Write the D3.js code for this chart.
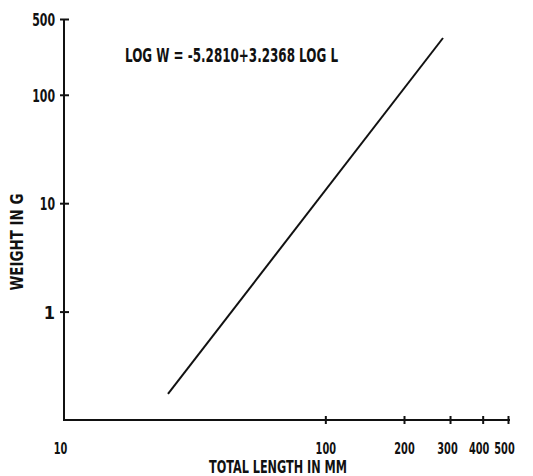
<!DOCTYPE html>
<html>
<head>
<meta charset="utf-8">
<script src="https://cdn.jsdelivr.net/npm/d3@7"></script>
<style>
  html, body { margin: 0; padding: 0; background: #fff; }
  text { font-family: "DejaVu Sans Condensed", "Liberation Sans Narrow", sans-serif; font-weight: bold; fill: #111; }
</style>
</head>
<body>
<svg id="chart" width="533" height="476"></svg>
<script>
// ---- data ----
const xTicks = [10, 100, 200, 300, 400, 500];
const xTickLabels = ["10", "100", "200", "300", "400", "500"];
const yTicks = [1, 10, 100, 500];
const yTickLabels = ["1", "10", "100", "500"];
const lineLength = [25, 282];      // total length, mm
const lineWeight = [0.174, 334];   // weight, g
const equationText = "LOG W = -5.2810+3.2368 LOG L";
const xTitle = "TOTAL LENGTH IN MM";
const yTitle = "WEIGHT IN G";

// ---- layout ----
const svg = d3.select("#chart");
const x = d3.scaleLog().domain([10, 500]).range([64, 508]);
const y = d3.scaleLog().domain([0.1, 500]).range([420, 19]);

const ink = "#111";
const fam = '"DejaVu Sans Condensed", "Liberation Sans Narrow", sans-serif';
function squeeze(sel, perChar) {
  sel.each(function() {
    const t = d3.select(this);
    const n = t.text().length;
    if (n > 1) t.attr("textLength", n * perChar).attr("lengthAdjust", "spacingAndGlyphs");
  });
}

// y axis
const yAxis = d3.axisLeft(y).tickValues(yTicks).tickSize(5).tickFormat((d, i) => yTickLabels[i]);
const gy = svg.append("g").attr("transform", "translate(64,0)").call(yAxis);
gy.select(".domain").remove();
gy.selectAll(".tick line").attr("x1", 5).attr("x2", -4).attr("stroke", ink).attr("stroke-width", 2);
gy.selectAll(".tick text").attr("x", -9).attr("font-size", 18).attr("dy", "0.36em")
  .style("font-family", fam).style("font-weight", "bold").attr("fill", ink)
  .call(squeeze, 7.6);
svg.append("line").attr("x1", 64).attr("x2", 64).attr("y1", y(500)).attr("y2", y(0.1))
  .attr("stroke", ink).attr("stroke-width", 2);

// x axis
const xAxis = d3.axisBottom(x).tickValues(xTicks).tickSize(4).tickFormat((d, i) => xTickLabels[i]);
const gx = svg.append("g").attr("transform", "translate(0,420)").call(xAxis);
gx.select(".domain").remove();
gx.selectAll(".tick line").attr("y1", -4).attr("y2", 4).attr("stroke", ink).attr("stroke-width", 2)
  .filter(d => d === 10).remove();
const labelShift = {10: -4, 100: 0, 200: 0, 300: -3, 400: -4, 500: -4};
const sx = 0.68;
gx.selectAll(".tick text")
  .attr("x", 0).attr("y", 0).attr("dy", "0.36em")
  .attr("transform", d => `translate(${labelShift[d]},28) scale(${sx},1)`)
  .attr("font-size", 16)
  .style("font-family", fam).style("font-weight", "bold").attr("fill", ink);
svg.append("line").attr("x1", 63).attr("x2", x(500) + 2).attr("y1", 420).attr("y2", 420)
  .attr("stroke", ink).attr("stroke-width", 2);

// regression line
const pts = lineLength.map((l, i) => [l, lineWeight[i]]);
svg.append("path")
  .attr("d", d3.line().x(d => x(d[0])).y(d => y(d[1]))(pts))
  .attr("fill", "none").attr("stroke", ink).attr("stroke-width", 2);

// equation
svg.append("text").attr("x", 125).attr("y", 62).attr("font-size", 19)
  .attr("textLength", 213).attr("lengthAdjust", "spacingAndGlyphs")
  .text(equationText);

// axis titles
svg.append("text").attr("x", 278).attr("y", 473).attr("text-anchor", "middle").attr("font-size", 17)
  .attr("textLength", 138).attr("lengthAdjust", "spacingAndGlyphs")
  .text(xTitle);
svg.append("text").attr("transform", "translate(23,242) rotate(-90)").attr("text-anchor", "middle")
  .attr("font-size", 18).attr("textLength", 97).attr("lengthAdjust", "spacingAndGlyphs")
  .text(yTitle);
</script>
</body>
</html>
